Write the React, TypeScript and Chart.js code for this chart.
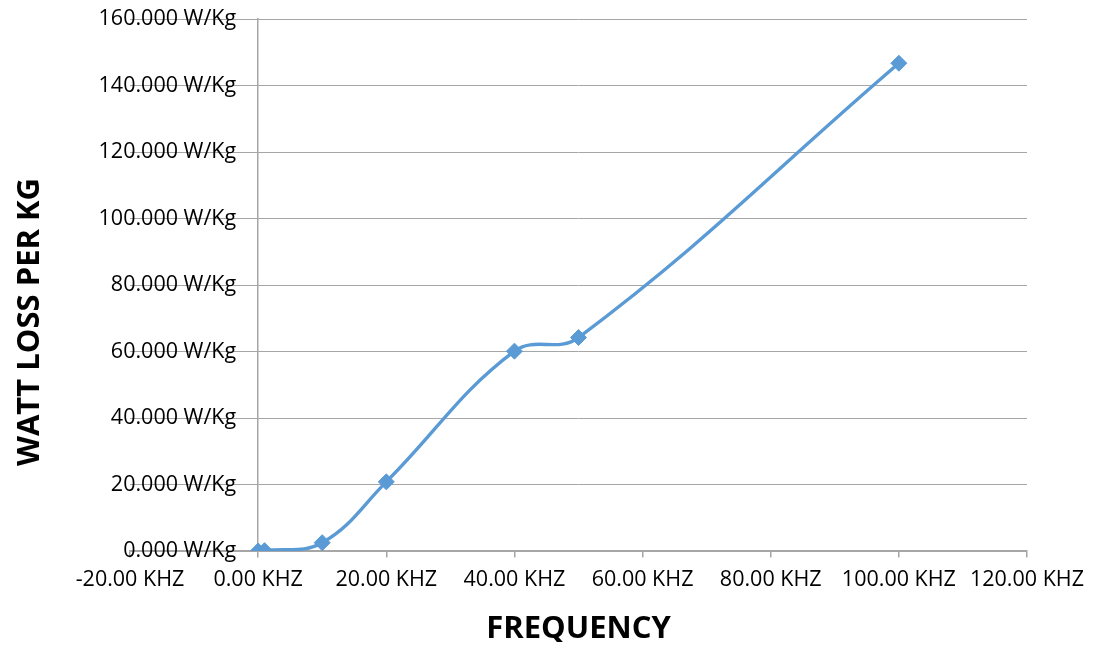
import React, { useEffect, useRef } from "react";
import { Chart, registerables } from "chart.js";

Chart.register(...registerables);

const frequencyKHz = [0, 1, 10, 20, 40, 50, 100];
const wattLossPerKg = [0, 0.1, 2.5, 20.8, 60.1, 64.2, 146.7];
const xTickMin = -20;
const xTickMax = 120;
const xTickStep = 20;
const yTickMin = 0;
const yTickMax = 160;
const yTickStep = 20;
const xTitle = "FREQUENCY";
const yTitle = "WATT LOSS PER KG";

const FONT = "'Open Sans', 'DejaVu Sans', sans-serif";
const LINE_COLOR = "#5B9BD5";
const GRID_COLOR = "#A6A6A6";

const formatY = (v: number) => v.toFixed(3) + " W/Kg";
const formatX = (v: number) => v.toFixed(2) + " KHZ";

const labelsAndTitlesPlugin = {
  id: "labelsAndTitles",
  afterDraw(chart: any) {
    const { ctx, chartArea } = chart;
    const xs = chart.scales.x;
    const ys = chart.scales.y;
    ctx.save();
    ctx.fillStyle = "#000";
    // y tick labels next to the axis crossing at x = 0
    ctx.font = `21.5px ${FONT}`;
    ctx.textAlign = "right";
    ctx.textBaseline = "middle";
    const axisX = xs.getPixelForValue(0);
    ys.ticks.forEach((t: any) => {
      ctx.fillText(formatY(t.value), axisX - 22, ys.getPixelForValue(t.value));
    });
    // titles
    ctx.font = `bold 31px ${FONT}`;
    ctx.textAlign = "center";
    ctx.textBaseline = "middle";
    ctx.fillText(xTitle, (chartArea.left + chartArea.right) / 2, 621);
    ctx.translate(22, 314);
    ctx.rotate(-Math.PI / 2);
    ctx.fillText(yTitle, 0, 0);
    ctx.restore();
  },
};

const zeroPad = (scale: any) => {
  scale.paddingTop = 0;
  scale.paddingBottom = 0;
  scale.paddingLeft = 0;
  scale.paddingRight = 0;
};

export default function App() {
  const canvasRef = useRef<HTMLCanvasElement | null>(null);

  useEffect(() => {
    if (!canvasRef.current) return;
    const chart = new Chart(canvasRef.current, {
      type: "line",
      data: {
        datasets: [
          {
            data: frequencyKHz.map((x, i) => ({ x, y: wattLossPerKg[i] })),
            borderColor: LINE_COLOR,
            backgroundColor: LINE_COLOR,
            borderWidth: 3.4,
            tension: 0.4,
            pointStyle: "rectRot",
            pointRadius: 8,
            pointBorderWidth: 1,
            pointBackgroundColor: LINE_COLOR,
            pointBorderColor: LINE_COLOR,
            fill: false,
          },
        ],
      },
      options: {
        responsive: false,
        animation: false,
        elements: { line: { capBezierPoints: false } },
        layout: { padding: { left: 122, right: 62, top: 11, bottom: 91 } },
        plugins: {
          legend: { display: false },
          tooltip: { enabled: false },
          title: { display: false },
        },
        scales: {
          x: {
            type: "linear",
            position: { y: 0 } as any,
            min: xTickMin,
            max: xTickMax,
            afterFit: zeroPad,
            ticks: {
              stepSize: xTickStep,
              color: "#000",
              font: { family: FONT, size: 21.5 },
              padding: 10,
              maxRotation: 0,
              autoSkip: false,
              callback: (v: any) => formatX(Number(v)),
            },
            grid: {
              drawOnChartArea: false,
              drawTicks: true,
              tickLength: 6,
              color: GRID_COLOR,
              lineWidth: 1.5,
            },
            border: { display: true, color: GRID_COLOR, width: 1.5 },
          },
          y: {
            type: "linear",
            position: { x: 0 } as any,
            min: yTickMin,
            max: yTickMax,
            afterFit: zeroPad,
            ticks: {
              stepSize: yTickStep,
              display: false,
            },
            grid: {
              drawOnChartArea: true,
              drawTicks: false,
              color: GRID_COLOR,
              lineWidth: 1,
            },
            border: { display: true, color: GRID_COLOR, width: 1.5 },
          },
        },
      },
      plugins: [labelsAndTitlesPlugin],
    });
    return () => chart.destroy();
  }, []);

  return (
    <div style={{ width: 1081, height: 634 }}>
      <canvas ref={canvasRef} width={1081} height={634} />
    </div>
  );
}
